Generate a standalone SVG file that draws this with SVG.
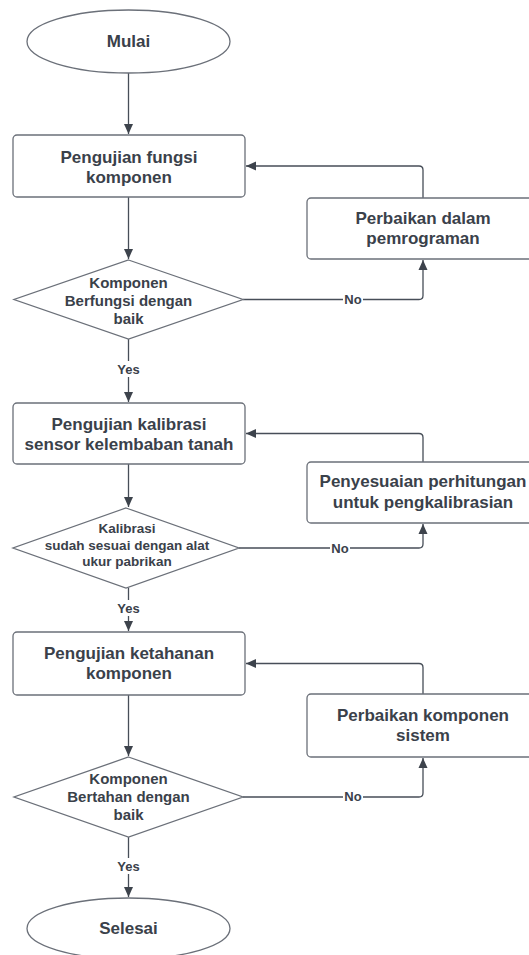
<svg xmlns="http://www.w3.org/2000/svg" width="529" height="955" viewBox="0 0 529 955">
<defs>
<marker id="arr" markerWidth="10" markerHeight="10" viewBox="0 0 10 10" refX="10" refY="5" orient="auto" markerUnits="userSpaceOnUse">
<path d="M0,0.5 L10,5 L0,9.5 Z" fill="#3d434c"/>
</marker>
<style>
.shape{fill:#ffffff;stroke:#6b7079;stroke-width:1.3}
.t{font-family:"Liberation Sans",Arial,sans-serif;font-weight:bold;fill:#3a414a;text-anchor:middle}
.big{font-size:17px}
.mid{font-size:15px}
.sm{font-size:13.5px}
.lbl{font-size:13px}
.con{fill:none;stroke:#474e58;stroke-width:1.3}
</style>
</defs>
<rect width="529" height="955" fill="#ffffff"/>
<g id="connectors">
<path class="con" d="M128.5,73 V134" marker-end="url(#arr)"/>
<path class="con" d="M128.5,197 V259" marker-end="url(#arr)"/>
<path class="con" d="M128.5,339 V402" marker-end="url(#arr)"/>
<path class="con" d="M128.5,464 V507" marker-end="url(#arr)"/>
<path class="con" d="M128.5,588 V631" marker-end="url(#arr)"/>
<path class="con" d="M128.5,695 V756" marker-end="url(#arr)"/>
<path class="con" d="M128.5,837 V897" marker-end="url(#arr)"/>
<path class="con" d="M243,299.5 H419 Q423,299.5 423,295.5 V260" marker-end="url(#arr)"/>
<path class="con" d="M423,198 V170 Q423,166 419,166 H246" marker-end="url(#arr)"/>
<path class="con" d="M239,548 H419 Q423,548 423,544 V524" marker-end="url(#arr)"/>
<path class="con" d="M423,462 V437.5 Q423,433.5 419,433.5 H246" marker-end="url(#arr)"/>
<path class="con" d="M243,797 H419 Q423,797 423,793 V758" marker-end="url(#arr)"/>
<path class="con" d="M423,694 V667.5 Q423,663.5 419,663.5 H246" marker-end="url(#arr)"/>
<rect x="114" y="361" width="29" height="16" fill="#ffffff"/>
<text class="t lbl" x="128.5" y="374">Yes</text>
<rect x="114" y="600" width="29" height="16" fill="#ffffff"/>
<text class="t lbl" x="128.5" y="613">Yes</text>
<rect x="114" y="858" width="29" height="16" fill="#ffffff"/>
<text class="t lbl" x="128.5" y="871">Yes</text>
<rect x="343" y="292" width="20" height="15" fill="#ffffff"/>
<text class="t lbl" x="353" y="304">No</text>
<rect x="330" y="541" width="20" height="15" fill="#ffffff"/>
<text class="t lbl" x="340" y="553">No</text>
<rect x="343" y="789" width="20" height="15" fill="#ffffff"/>
<text class="t lbl" x="353" y="801">No</text>
</g>
<g id="mulai">
<ellipse class="shape" cx="128.5" cy="41.5" rx="101.5" ry="31.5"/>
<text class="t big" x="128.5" y="47">Mulai</text>
</g>
<g id="uji-fungsi">
<rect class="shape" x="13" y="135" width="232" height="62" rx="4"/>
<text class="t big" x="129" y="163">Pengujian fungsi</text>
<text class="t big" x="129" y="183">komponen</text>
</g>
<g id="cek-fungsi">
<path class="shape" d="M128.5,260 L243,299.5 L128.5,339 L14,299.5 Z"/>
<text class="t mid" x="128.5" y="287.5">Komponen</text>
<text class="t mid" x="128.5" y="305.5">Berfungsi dengan</text>
<text class="t mid" x="128.5" y="323.5">baik</text>
</g>
<g id="perbaikan-program">
<rect class="shape" x="307" y="198" width="232" height="61" rx="4"/>
<text class="t big" x="423" y="224">Perbaikan dalam</text>
<text class="t big" x="423" y="244">pemrograman</text>
</g>
<g id="uji-kalibrasi">
<rect class="shape" x="13" y="403" width="232" height="61" rx="4"/>
<text class="t big" x="129" y="429.5">Pengujian kalibrasi</text>
<text class="t big" x="129" y="449.5">sensor kelembaban tanah</text>
</g>
<g id="cek-kalibrasi">
<path class="shape" d="M126,508 L239,548 L126,588 L13,548 Z"/>
<text class="t sm" x="127" y="533">Kalibrasi</text>
<text class="t sm" x="127" y="549.5">sudah sesuai dengan alat</text>
<text class="t sm" x="127" y="566">ukur pabrikan</text>
</g>
<g id="penyesuaian">
<rect class="shape" x="307" y="462" width="232" height="61" rx="4"/>
<text class="t big" x="423" y="487">Penyesuaian perhitungan</text>
<text class="t big" x="423" y="507.5">untuk pengkalibrasian</text>
</g>
<g id="uji-ketahanan">
<rect class="shape" x="13" y="632" width="232" height="63" rx="4"/>
<text class="t big" x="129" y="659">Pengujian ketahanan</text>
<text class="t big" x="129" y="679">komponen</text>
</g>
<g id="cek-ketahanan">
<path class="shape" d="M128.5,757 L243,797 L128.5,837 L14,797 Z"/>
<text class="t mid" x="128.5" y="784">Komponen</text>
<text class="t mid" x="128.5" y="802">Bertahan dengan</text>
<text class="t mid" x="128.5" y="820">baik</text>
</g>
<g id="perbaikan-komponen">
<rect class="shape" x="307" y="694" width="232" height="63" rx="4"/>
<text class="t big" x="423" y="721">Perbaikan komponen</text>
<text class="t big" x="423" y="741">sistem</text>
</g>
<g id="selesai">
<ellipse class="shape" cx="128.5" cy="928.5" rx="101.5" ry="30.5"/>
<text class="t big" x="128.5" y="934">Selesai</text>
</g>
</svg>
